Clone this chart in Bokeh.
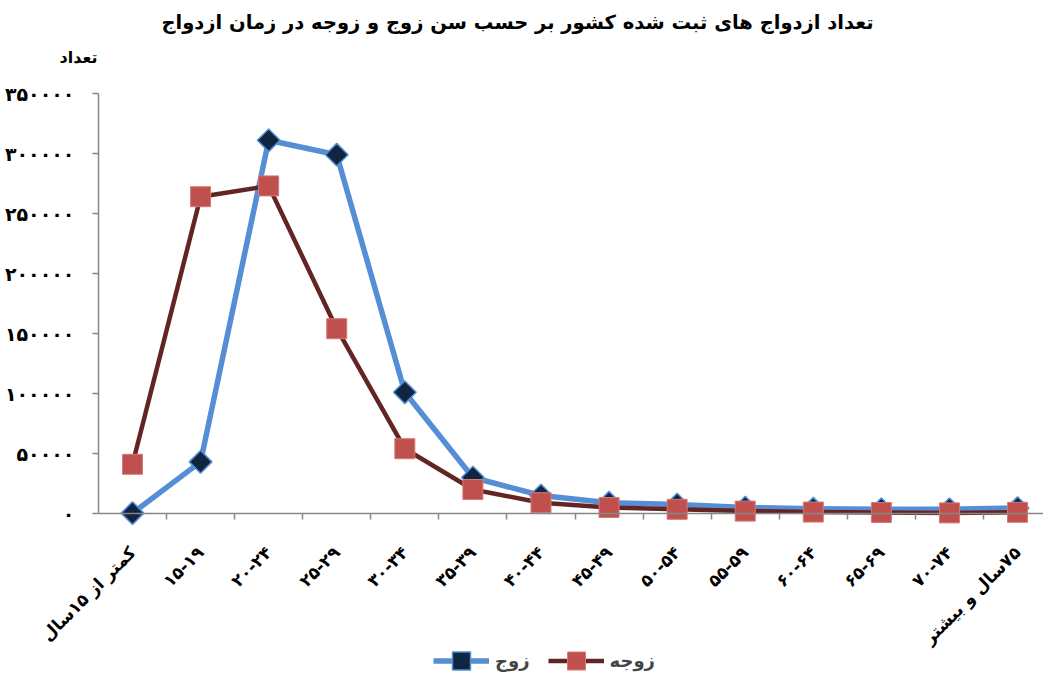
from math import pi
from bokeh.plotting import figure
from bokeh.models import (ColumnDataSource, FixedTicker, Range1d, Legend,
                          LegendItem, Label)
from bokeh.embed import file_html
from bokeh.resources import INLINE

# ---------------- data ----------------
categories = ["کمتر از ۱۵سال", "۱۵-۱۹", "۲۰-۲۴", "۲۵-۲۹", "۳۰-۳۴", "۳۵-۳۹",
              "۴۰-۴۴", "۴۵-۴۹", "۵۰-۵۴", "۵۵-۵۹", "۶۰-۶۴", "۶۵-۶۹", "۷۰-۷۴",
              "\u200f۷۵سال و بیشتر"]
husband = [300, 43000, 311000, 299000, 101000, 30000, 15000, 9000, 7500,
           5000, 4000, 3500, 3500, 4500]
wife = [41000, 264000, 273000, 154000, 54000, 20000, 9000, 5000, 3500,
        2000, 1200, 800, 500, 1000]
y_ticks = [0, 50000, 100000, 150000, 200000, 250000, 300000, 350000]
y_tick_labels = ["۰", "۵۰۰۰۰", "۱۰۰۰۰۰", "۱۵۰۰۰۰", "۲۰۰۰۰۰", "۲۵۰۰۰۰",
                 "۳۰۰۰۰۰", "۳۵۰۰۰۰"]
series_names = ["زوج", "زوجه"]
title_text = "تعداد ازدواج های ثبت شده کشور بر حسب سن زوج و زوجه در زمان ازدواج"
y_title = "تعداد"

FONT = "DejaVu Sans"
W, H = 1043, 675
xs = list(range(len(categories)))
src = ColumnDataSource(dict(x=xs, h=husband, w=wife))

# layout geometry (pixels): first category at 132, spacing 68.08, y=0 at 513
PX_CAT0, PX_STEP = 132.0, 68.08
PX_Y0, PX_PER_UNIT = 513.0, 1.2 / 1000
x_start = -PX_CAT0 / PX_STEP
x_end = (W - PX_CAT0) / PX_STEP
y_end = PX_Y0 / PX_PER_UNIT
y_start = -(H - PX_Y0) / PX_PER_UNIT

p = figure(width=W, height=H, x_range=Range1d(x_start, x_end),
           y_range=Range1d(y_start, y_end), output_backend="svg",
           toolbar_location=None, title=None, min_border=0)
p.outline_line_color = None
p.xgrid.visible = False
p.ygrid.visible = False
p.background_fill_color = "white"
p.border_fill_color = "white"

AX = "#868686"
# x axis
xa = p.xaxis[0]
xa.fixed_location = 0
xa.bounds = (-0.5, x_end)
xa.ticker = FixedTicker(ticks=xs, minor_ticks=[i + 0.5 for i in range(0, 13)])
xa.major_label_overrides = {i: c for i, c in enumerate(categories)}
xa.major_label_orientation = pi / 4
xa.major_tick_in = 0
xa.major_tick_out = 0
xa.minor_tick_in = 0
xa.minor_tick_out = 6
xa.minor_tick_line_color = AX
xa.minor_tick_line_width = 1.5
xa.axis_line_color = AX
xa.axis_line_width = 1.5
xa.major_label_text_font = FONT
xa.major_label_text_font_style = "bold"
xa.major_label_text_font_size = "17px"
xa.major_label_text_color = "black"
xa.major_label_standoff = 30

# y axis
ya = p.yaxis[0]
ya.fixed_location = -0.5
ya.bounds = (0, 350000)
ya.ticker = FixedTicker(ticks=y_ticks, minor_ticks=[])
ya.major_label_overrides = {t: l for t, l in zip(y_ticks, y_tick_labels)}
ya.major_tick_in = 0
ya.major_tick_out = 6
ya.major_tick_line_color = AX
ya.major_tick_line_width = 1.5
ya.axis_line_color = AX
ya.axis_line_width = 1.5
ya.major_label_text_font = FONT
ya.major_label_text_font_style = "bold"
ya.major_label_text_font_size = "19px"
ya.major_label_text_color = "black"
ya.major_label_standoff = 18

# series
BLUE = "#558ED5"
NAVY = "#10253F"
DRED = "#632523"
RED = "#C0504D"
l1 = p.line("x", "h", source=src, line_color=BLUE, line_width=5.5,
            line_join="round")
m1 = p.scatter("x", "h", source=src, marker="square", angle=pi / 4, size=16,
               fill_color=NAVY, line_color=BLUE, line_width=1.5)
l2 = p.line("x", "w", source=src, line_color=DRED, line_width=4.5,
            line_join="round")
m2 = p.scatter("x", "w", source=src, marker="square", size=20,
               fill_color=RED, line_color="#D27B78", line_width=1)

legend = Legend(items=[LegendItem(label=series_names[0], renderers=[l1, m1]),
                       LegendItem(label=series_names[1], renderers=[l2, m2])],
                orientation="horizontal", location=(433, -8),
                border_line_color=None, background_fill_alpha=0,
                label_text_font=FONT, label_text_font_style="bold",
                label_text_font_size="18px", glyph_width=56, glyph_height=45,
                spacing=18, padding=0, margin=0, label_standoff=6)
p.add_layout(legend, "center")

p.add_layout(Label(x=(517 - PX_CAT0) / PX_STEP, y=(PX_Y0 - 22) / PX_PER_UNIT,
                   text=title_text, text_align="center",
                   text_baseline="middle", text_font=FONT,
                   text_font_style="bold", text_font_size="19.5px",
                   text_color="black"))
p.add_layout(Label(x=(78 - PX_CAT0) / PX_STEP, y=(PX_Y0 - 57) / PX_PER_UNIT,
                   text=y_title, text_align="center",
                   text_baseline="middle", text_font=FONT,
                   text_font_style="bold", text_font_size="16px",
                   text_color="black"))

open("out.html", "w").write(file_html(p, INLINE))
